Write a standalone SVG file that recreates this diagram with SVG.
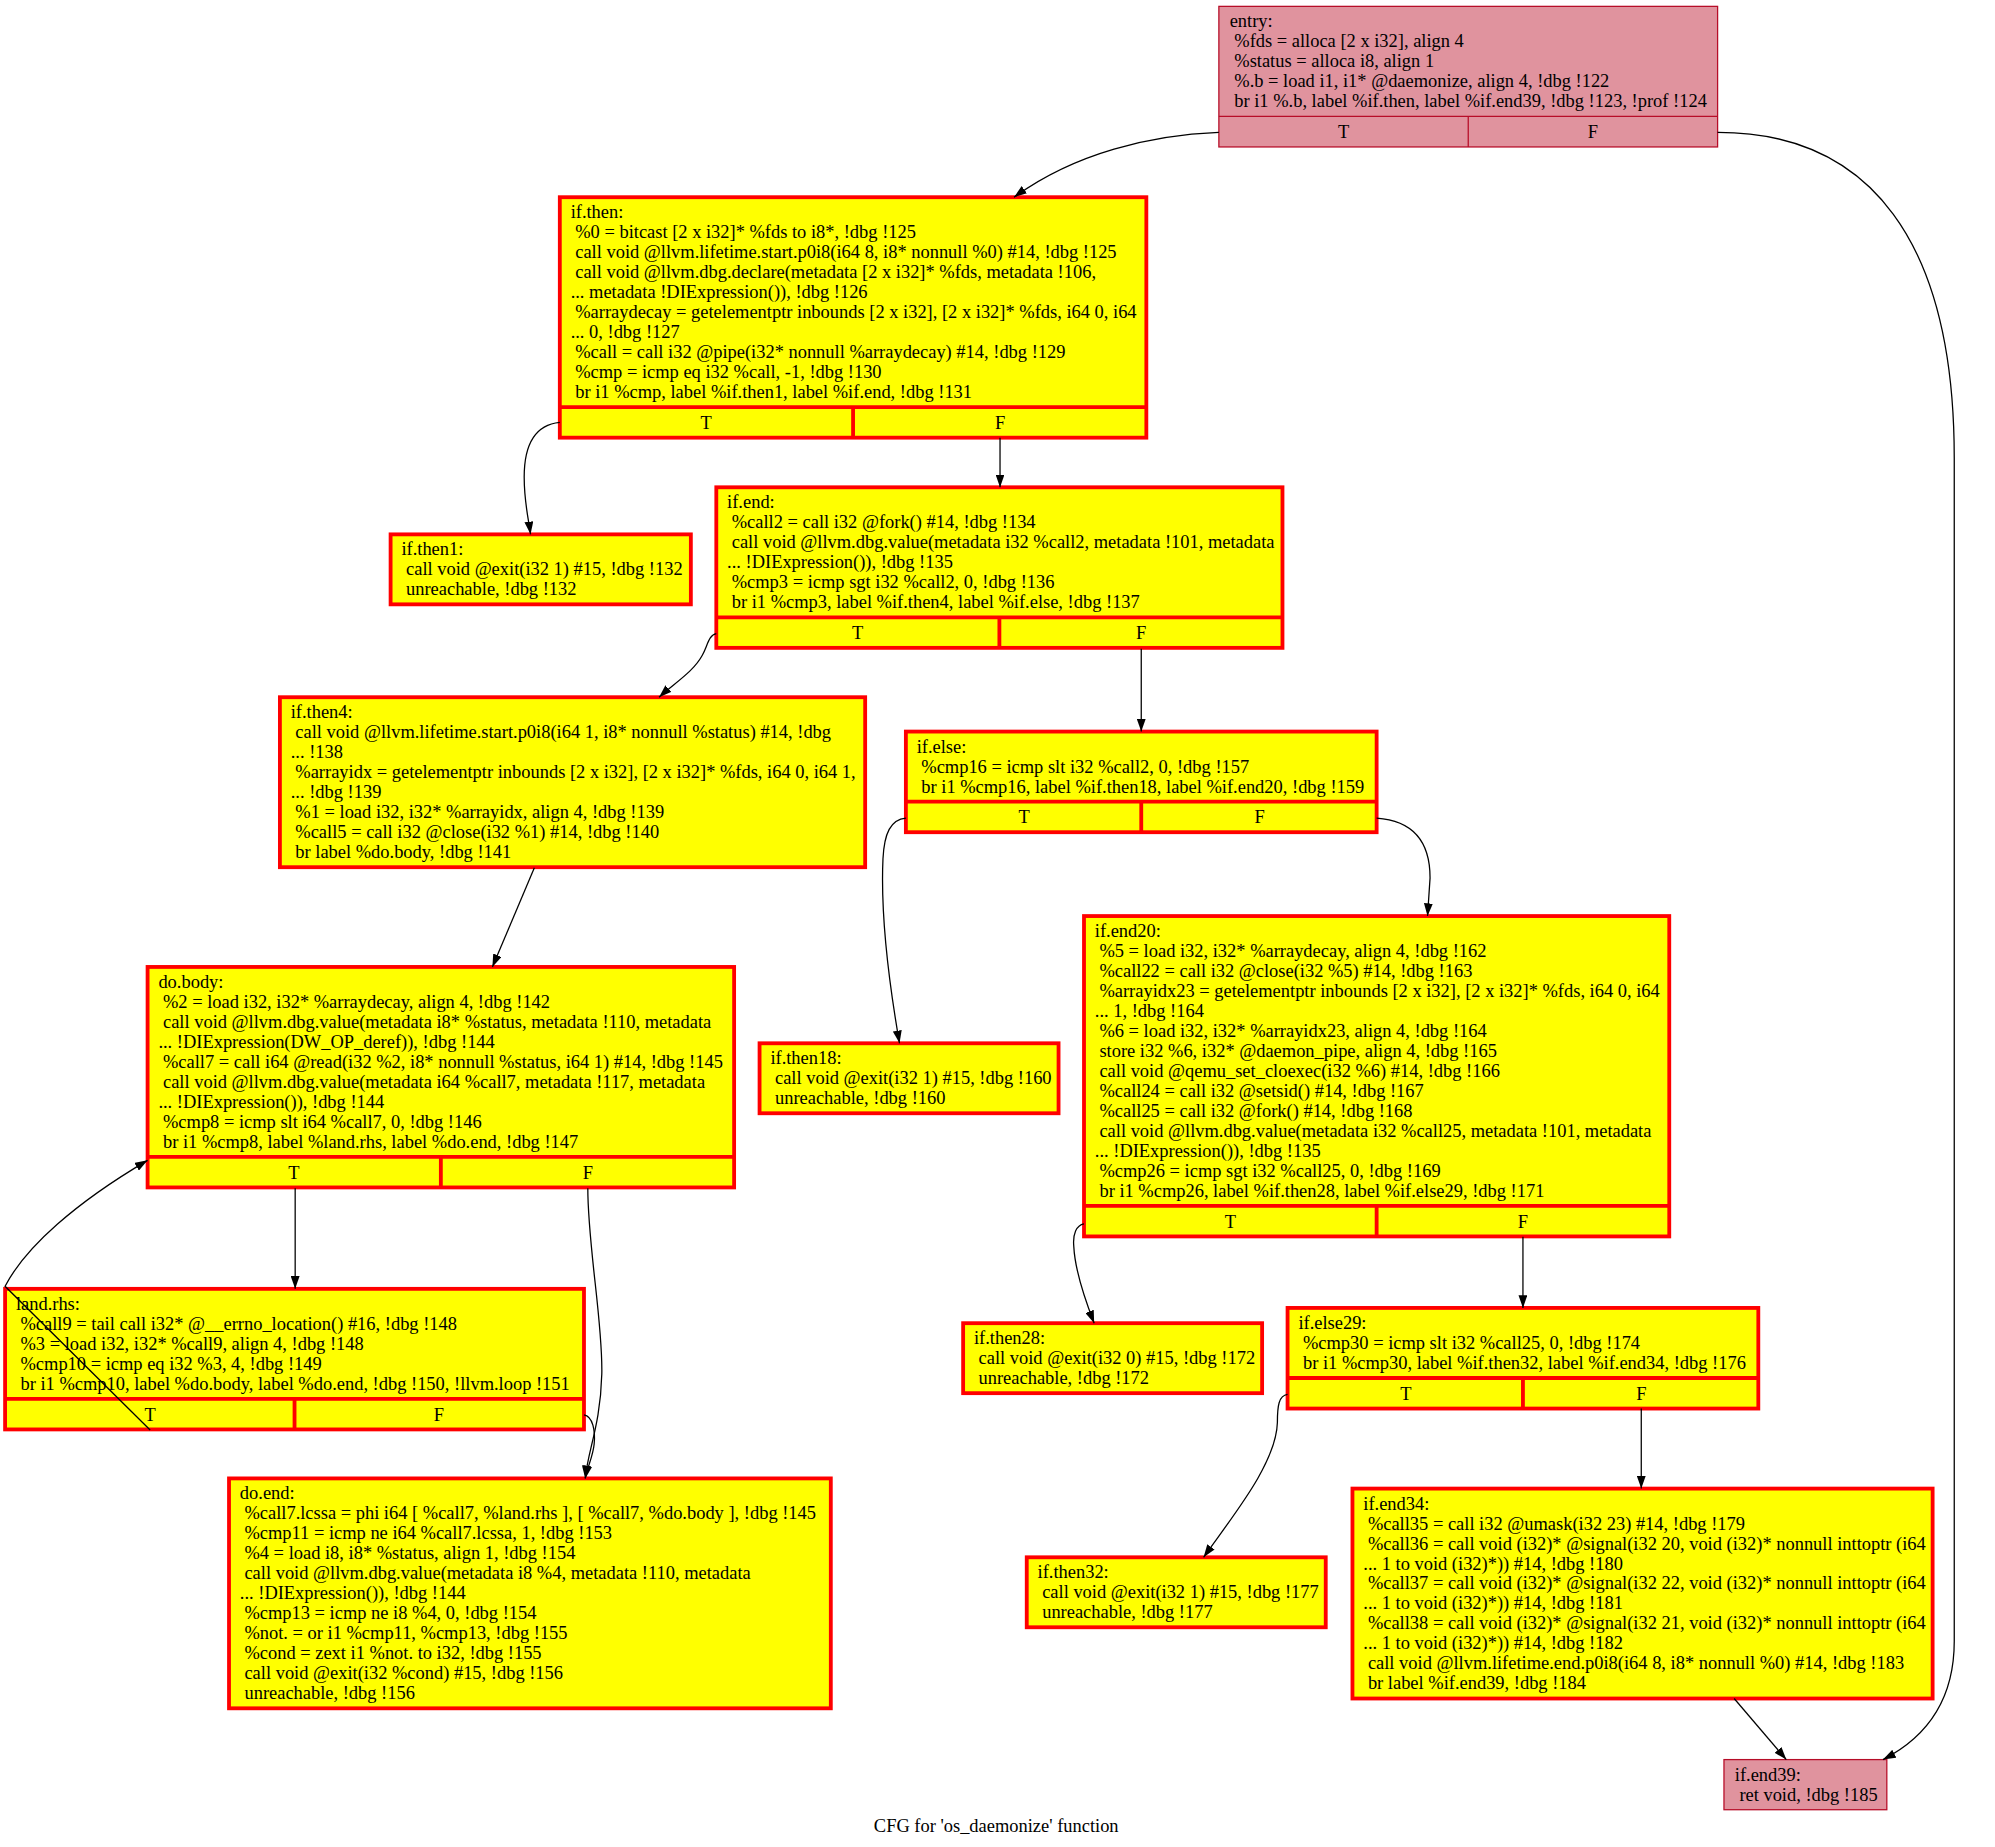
<svg xmlns="http://www.w3.org/2000/svg" width="1995" height="1847" viewBox="0 0 1995 1847" xml:space="preserve">
<style>
text { font-family: "Liberation Serif", "Times New Roman", serif; font-size: 14.5px; fill: #000; white-space: pre; }
.c { text-anchor: middle; }
.red { fill: #ffff00; stroke: #ff0000; stroke-width: 3; }
.redl { fill: none; stroke: #ff0000; stroke-width: 3; }
.pink { fill: #e0939e; stroke: #b70d28; stroke-width: 1; }
.pinkl { fill: none; stroke: #b70d28; stroke-width: 1; }
.edge { fill: none; stroke: #000; stroke-width: 1; marker-end: url(#arr); }
</style>
<defs>
<marker id="arr" viewBox="0 0 10 7" refX="10" refY="3.5" markerWidth="10" markerHeight="7" markerUnits="userSpaceOnUse" orient="auto">
<path d="M0,0 L10,3.5 L0,7 z" fill="#000"/>
</marker>
</defs>
<rect width="1995" height="1847" fill="#fff"/>
<g transform="scale(1.2723)">

<g id="node-entry">
<rect class="pink" x="958" y="5" width="392" height="110.5"/>
<path class="pinkl" d="M958,91.5 H1350 M1154,91.5 V115.5"/>
<text x="966.5" y="21.5">entry:</text>
<text x="966.5" y="37.2"> %fds = alloca [2 x i32], align 4</text>
<text x="966.5" y="52.9"> %status = alloca i8, align 1</text>
<text x="966.5" y="68.6"> %.b = load i1, i1* @daemonize, align 4, !dbg !122</text>
<text x="966.5" y="84.3"> br i1 %.b, label %if.then, label %if.end39, !dbg !123, !prof !124</text>
<text class="c" x="1056" y="108.5">T</text>
<text class="c" x="1252" y="108.5">F</text>
</g>

<g id="node-if.then">
<rect class="red" x="440" y="155" width="461" height="189"/>
<path class="redl" d="M440,320 H901 M670.5,320 V344"/>
<text x="448.5" y="171.5">if.then:</text>
<text x="448.5" y="187.2"> %0 = bitcast [2 x i32]* %fds to i8*, !dbg !125</text>
<text x="448.5" y="202.9"> call void @llvm.lifetime.start.p0i8(i64 8, i8* nonnull %0) #14, !dbg !125</text>
<text x="448.5" y="218.6"> call void @llvm.dbg.declare(metadata [2 x i32]* %fds, metadata !106,</text>
<text x="448.5" y="234.3">... metadata !DIExpression()), !dbg !126</text>
<text x="448.5" y="250"> %arraydecay = getelementptr inbounds [2 x i32], [2 x i32]* %fds, i64 0, i64</text>
<text x="448.5" y="265.7">... 0, !dbg !127</text>
<text x="448.5" y="281.4"> %call = call i32 @pipe(i32* nonnull %arraydecay) #14, !dbg !129</text>
<text x="448.5" y="297.1"> %cmp = icmp eq i32 %call, -1, !dbg !130</text>
<text x="448.5" y="312.8"> br i1 %cmp, label %if.then1, label %if.end, !dbg !131</text>
<text class="c" x="555" y="337">T</text>
<text class="c" x="786" y="337">F</text>
</g>

<g id="node-if.then1">
<rect class="red" x="307" y="420" width="236" height="55"/>
<text x="315.5" y="436.5">if.then1:</text>
<text x="315.5" y="452.2"> call void @exit(i32 1) #15, !dbg !132</text>
<text x="315.5" y="467.9"> unreachable, !dbg !132</text>
</g>

<g id="node-if.end">
<rect class="red" x="563" y="383" width="445" height="126.2"/>
<path class="redl" d="M563,485.2 H1008 M785.5,485.2 V509.2"/>
<text x="571.5" y="399.5">if.end:</text>
<text x="571.5" y="415.2"> %call2 = call i32 @fork() #14, !dbg !134</text>
<text x="571.5" y="430.9"> call void @llvm.dbg.value(metadata i32 %call2, metadata !101, metadata</text>
<text x="571.5" y="446.6">... !DIExpression()), !dbg !135</text>
<text x="571.5" y="462.3"> %cmp3 = icmp sgt i32 %call2, 0, !dbg !136</text>
<text x="571.5" y="478"> br i1 %cmp3, label %if.then4, label %if.else, !dbg !137</text>
<text class="c" x="674" y="502.2">T</text>
<text class="c" x="897" y="502.2">F</text>
</g>

<g id="node-if.then4">
<rect class="red" x="220" y="548" width="460" height="133.6"/>
<text x="228.5" y="564.5">if.then4:</text>
<text x="228.5" y="580.2"> call void @llvm.lifetime.start.p0i8(i64 1, i8* nonnull %status) #14, !dbg</text>
<text x="228.5" y="595.9">... !138</text>
<text x="228.5" y="611.6"> %arrayidx = getelementptr inbounds [2 x i32], [2 x i32]* %fds, i64 0, i64 1,</text>
<text x="228.5" y="627.3">... !dbg !139</text>
<text x="228.5" y="643"> %1 = load i32, i32* %arrayidx, align 4, !dbg !139</text>
<text x="228.5" y="658.7"> %call5 = call i32 @close(i32 %1) #14, !dbg !140</text>
<text x="228.5" y="674.4"> br label %do.body, !dbg !141</text>
</g>

<g id="node-if.else">
<rect class="red" x="712" y="575" width="370" height="79.1"/>
<path class="redl" d="M712,630.1 H1082 M897,630.1 V654.1"/>
<text x="720.5" y="591.5">if.else:</text>
<text x="720.5" y="607.2"> %cmp16 = icmp slt i32 %call2, 0, !dbg !157</text>
<text x="720.5" y="622.9"> br i1 %cmp16, label %if.then18, label %if.end20, !dbg !159</text>
<text class="c" x="805" y="647.1">T</text>
<text class="c" x="990" y="647.1">F</text>
</g>

<g id="node-do.body">
<rect class="red" x="116" y="760" width="461" height="173.3"/>
<path class="redl" d="M116,909.3 H577 M346.5,909.3 V933.3"/>
<text x="124.5" y="776.5">do.body:</text>
<text x="124.5" y="792.2"> %2 = load i32, i32* %arraydecay, align 4, !dbg !142</text>
<text x="124.5" y="807.9"> call void @llvm.dbg.value(metadata i8* %status, metadata !110, metadata</text>
<text x="124.5" y="823.6">... !DIExpression(DW_OP_deref)), !dbg !144</text>
<text x="124.5" y="839.3"> %call7 = call i64 @read(i32 %2, i8* nonnull %status, i64 1) #14, !dbg !145</text>
<text x="124.5" y="855"> call void @llvm.dbg.value(metadata i64 %call7, metadata !117, metadata</text>
<text x="124.5" y="870.7">... !DIExpression()), !dbg !144</text>
<text x="124.5" y="886.4"> %cmp8 = icmp slt i64 %call7, 0, !dbg !146</text>
<text x="124.5" y="902.1"> br i1 %cmp8, label %land.rhs, label %do.end, !dbg !147</text>
<text class="c" x="231" y="926.3">T</text>
<text class="c" x="462" y="926.3">F</text>
</g>

<g id="node-if.then18">
<rect class="red" x="597" y="820" width="235" height="55"/>
<text x="605.5" y="836.5">if.then18:</text>
<text x="605.5" y="852.2"> call void @exit(i32 1) #15, !dbg !160</text>
<text x="605.5" y="867.9"> unreachable, !dbg !160</text>
</g>

<g id="node-if.end20">
<rect class="red" x="852" y="720" width="460" height="251.8"/>
<path class="redl" d="M852,947.8 H1312 M1082,947.8 V971.8"/>
<text x="860.5" y="736.5">if.end20:</text>
<text x="860.5" y="752.2"> %5 = load i32, i32* %arraydecay, align 4, !dbg !162</text>
<text x="860.5" y="767.9"> %call22 = call i32 @close(i32 %5) #14, !dbg !163</text>
<text x="860.5" y="783.6"> %arrayidx23 = getelementptr inbounds [2 x i32], [2 x i32]* %fds, i64 0, i64</text>
<text x="860.5" y="799.3">... 1, !dbg !164</text>
<text x="860.5" y="815"> %6 = load i32, i32* %arrayidx23, align 4, !dbg !164</text>
<text x="860.5" y="830.7"> store i32 %6, i32* @daemon_pipe, align 4, !dbg !165</text>
<text x="860.5" y="846.4"> call void @qemu_set_cloexec(i32 %6) #14, !dbg !166</text>
<text x="860.5" y="862.1"> %call24 = call i32 @setsid() #14, !dbg !167</text>
<text x="860.5" y="877.8"> %call25 = call i32 @fork() #14, !dbg !168</text>
<text x="860.5" y="893.5"> call void @llvm.dbg.value(metadata i32 %call25, metadata !101, metadata</text>
<text x="860.5" y="909.2">... !DIExpression()), !dbg !135</text>
<text x="860.5" y="924.9"> %cmp26 = icmp sgt i32 %call25, 0, !dbg !169</text>
<text x="860.5" y="940.6"> br i1 %cmp26, label %if.then28, label %if.else29, !dbg !171</text>
<text class="c" x="967" y="964.8">T</text>
<text class="c" x="1197" y="964.8">F</text>
</g>

<g id="node-land.rhs">
<rect class="red" x="4" y="1013" width="455" height="110.5"/>
<path class="redl" d="M4,1099.5 H459 M231.5,1099.5 V1123.5"/>
<text x="12.5" y="1029.5">land.rhs:</text>
<text x="12.5" y="1045.2"> %call9 = tail call i32* @__errno_location() #16, !dbg !148</text>
<text x="12.5" y="1060.9"> %3 = load i32, i32* %call9, align 4, !dbg !148</text>
<text x="12.5" y="1076.6"> %cmp10 = icmp eq i32 %3, 4, !dbg !149</text>
<text x="12.5" y="1092.3"> br i1 %cmp10, label %do.body, label %do.end, !dbg !150, !llvm.loop !151</text>
<text class="c" x="118" y="1116.5">T</text>
<text class="c" x="345" y="1116.5">F</text>
</g>

<g id="node-if.then28">
<rect class="red" x="757" y="1040" width="235" height="55"/>
<text x="765.5" y="1056.5">if.then28:</text>
<text x="765.5" y="1072.2"> call void @exit(i32 0) #15, !dbg !172</text>
<text x="765.5" y="1087.9"> unreachable, !dbg !172</text>
</g>

<g id="node-if.else29">
<rect class="red" x="1012" y="1028" width="370" height="79.1"/>
<path class="redl" d="M1012,1083.1 H1382 M1197,1083.1 V1107.1"/>
<text x="1020.5" y="1044.5">if.else29:</text>
<text x="1020.5" y="1060.2"> %cmp30 = icmp slt i32 %call25, 0, !dbg !174</text>
<text x="1020.5" y="1075.9"> br i1 %cmp30, label %if.then32, label %if.end34, !dbg !176</text>
<text class="c" x="1105" y="1100.1">T</text>
<text class="c" x="1290" y="1100.1">F</text>
</g>

<g id="node-do.end">
<rect class="red" x="180" y="1162" width="473" height="180.7"/>
<text x="188.5" y="1178.5">do.end:</text>
<text x="188.5" y="1194.2"> %call7.lcssa = phi i64 [ %call7, %land.rhs ], [ %call7, %do.body ], !dbg !145</text>
<text x="188.5" y="1209.9"> %cmp11 = icmp ne i64 %call7.lcssa, 1, !dbg !153</text>
<text x="188.5" y="1225.6"> %4 = load i8, i8* %status, align 1, !dbg !154</text>
<text x="188.5" y="1241.3"> call void @llvm.dbg.value(metadata i8 %4, metadata !110, metadata</text>
<text x="188.5" y="1257">... !DIExpression()), !dbg !144</text>
<text x="188.5" y="1272.7"> %cmp13 = icmp ne i8 %4, 0, !dbg !154</text>
<text x="188.5" y="1288.4"> %not. = or i1 %cmp11, %cmp13, !dbg !155</text>
<text x="188.5" y="1304.1"> %cond = zext i1 %not. to i32, !dbg !155</text>
<text x="188.5" y="1319.8"> call void @exit(i32 %cond) #15, !dbg !156</text>
<text x="188.5" y="1335.5"> unreachable, !dbg !156</text>
</g>

<g id="node-if.then32">
<rect class="red" x="807" y="1224" width="235" height="55"/>
<text x="815.5" y="1240.5">if.then32:</text>
<text x="815.5" y="1256.2"> call void @exit(i32 1) #15, !dbg !177</text>
<text x="815.5" y="1271.9"> unreachable, !dbg !177</text>
</g>

<g id="node-if.end34">
<rect class="red" x="1063" y="1170" width="456" height="165"/>
<text x="1071.5" y="1186.5">if.end34:</text>
<text x="1071.5" y="1202.2"> %call35 = call i32 @umask(i32 23) #14, !dbg !179</text>
<text x="1071.5" y="1217.9"> %call36 = call void (i32)* @signal(i32 20, void (i32)* nonnull inttoptr (i64</text>
<text x="1071.5" y="1233.6">... 1 to void (i32)*)) #14, !dbg !180</text>
<text x="1071.5" y="1249.3"> %call37 = call void (i32)* @signal(i32 22, void (i32)* nonnull inttoptr (i64</text>
<text x="1071.5" y="1265">... 1 to void (i32)*)) #14, !dbg !181</text>
<text x="1071.5" y="1280.7"> %call38 = call void (i32)* @signal(i32 21, void (i32)* nonnull inttoptr (i64</text>
<text x="1071.5" y="1296.4">... 1 to void (i32)*)) #14, !dbg !182</text>
<text x="1071.5" y="1312.1"> call void @llvm.lifetime.end.p0i8(i64 8, i8* nonnull %0) #14, !dbg !183</text>
<text x="1071.5" y="1327.8"> br label %if.end39, !dbg !184</text>
</g>

<g id="node-if.end39">
<rect class="pink" x="1355" y="1383" width="128" height="39.4"/>
<text x="1363.5" y="1399.5">if.end39:</text>
<text x="1363.5" y="1415.2"> ret void, !dbg !185</text>
</g>

<g id="edges">
<path class="edge" d="M958,104 C905,106 845,120 797,155"/>
<path class="edge" d="M1350,104 C1470,104 1536,190 1536,360 L1536,1290 C1536,1335 1515,1365 1480,1383"/>
<path class="edge" d="M440,332 C420,334 412,350 412,375 C412,395 415,405 417,420"/>
<path class="edge" d="M786,344 L786,383"/>
<path class="edge" d="M563,498 C557,499 556,508 552,515 C545,528 530,537 518,548"/>
<path class="edge" d="M897,510 L897,575"/>
<path class="edge" d="M420,682 L387,760"/>
<path class="edge" d="M712,643 C700,644 695,655 694,675 C692,720 700,780 707,820"/>
<path class="edge" d="M1082,643 C1110,645 1124,660 1124,690 L1122,720"/>
<path class="edge" d="M232,934 L232,1013"/>
<path class="edge" d="M462,934 C462,980 474,1040 473,1080 C472,1120 462,1140 460,1162"/>
<path class="edge" d="M459,1112 C466,1113 468,1125 467,1135 C466,1145 462,1152 460,1162"/>
<path class="edge" d="M118,1124 L4,1011 C20,980 60,945 116,912"/>
<path class="edge" d="M852,962 C846,963 843,970 844,980 C845,1000 853,1022 860,1040"/>
<path class="edge" d="M1197,972 L1197,1028"/>
<path class="edge" d="M1012,1096 C1005,1097 1004,1105 1004,1118 C1003,1150 970,1190 946,1224"/>
<path class="edge" d="M1290,1107 L1290,1170"/>
<path class="edge" d="M1363,1335 L1404,1383"/>
</g>

<text class="c" x="783" y="1440">CFG for 'os_daemonize' function</text>
</g>
</svg>
